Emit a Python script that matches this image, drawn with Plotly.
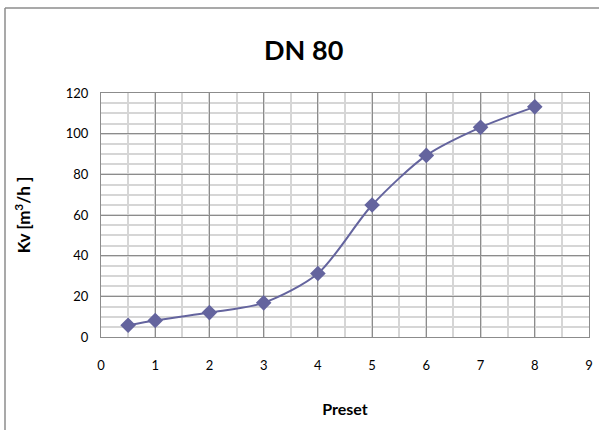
import plotly.graph_objects as go

preset = [0.5, 1, 2, 3, 4, 5, 6, 7, 8]
kv = [5.8, 8.1, 12.0, 16.8, 31.2, 64.9, 89.3, 103.1, 113.2]

x_ticks = list(range(0, 10))
y_ticks = list(range(0, 121, 20))

FONT = "Lato"
color = "#64649e"

fig = go.Figure()
fig.add_trace(go.Scatter(
    x=preset, y=kv, mode="lines+markers",
    line=dict(color=color, width=2, shape="spline", smoothing=0.8),
    marker=dict(symbol="diamond", size=12, color=color),
    showlegend=False,
))

fig.update_layout(
    width=599, height=430,
    margin=dict(l=101, r=10, t=93, b=93),
    paper_bgcolor="white", plot_bgcolor="white",
    font=dict(family=FONT, color="#000000", size=13),
    title=dict(text="<b>DN 80</b>", x=0.507, xanchor="center", y=0.883, yanchor="middle",
               font=dict(size=27, family=FONT)),
    xaxis=dict(range=[0, 9], tickvals=x_ticks, ticktext=[str(v) for v in x_ticks],
               automargin=False,
               showgrid=True, gridcolor="#8c8c8c", gridwidth=1,
               minor=dict(dtick=0.5, showgrid=True, gridcolor="#d6d6d6", gridwidth=1.5),
               showline=True, linecolor="#8c8c8c", linewidth=1, mirror=True,
               zeroline=False, ticks="outside", ticklen=16, tickcolor="rgba(0,0,0,0)",
               title=dict(text="<b>Preset</b>", font=dict(size=16), standoff=32)),
    yaxis=dict(range=[0, 120], tickvals=y_ticks, ticktext=[str(v) for v in y_ticks],
               automargin=False,
               showgrid=True, gridcolor="#8c8c8c", gridwidth=1,
               minor=dict(dtick=5, showgrid=True, gridcolor="#d6d6d6", gridwidth=1.5),
               showline=True, linecolor="#8c8c8c", linewidth=1, mirror=True,
               zeroline=False, ticks="outside", ticklen=9, tickcolor="rgba(0,0,0,0)",
               title=dict(text="<b>Kv [m<sup>3</sup>/h ]</b>", font=dict(size=17), standoff=30)),
    shapes=[
        dict(type="line", xref="paper", yref="paper", x0=-96/488, x1=-96/488, y0=-2, y1=(337-8)/244,
             line=dict(color="#8c8c8c", width=1.5)),
        dict(type="line", xref="paper", yref="paper", x0=-96/488, x1=2, y0=(337-8)/244, y1=(337-8)/244,
             line=dict(color="#8c8c8c", width=1.5)),
    ],
)

fig.write_html("out.html", config={"displayModeBar": False},
               post_script="document.body.style.margin='0';")
